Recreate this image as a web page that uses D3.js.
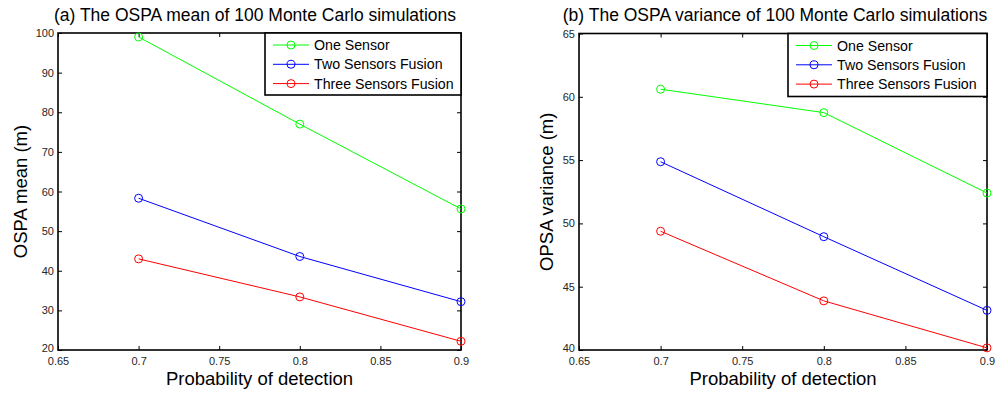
<!DOCTYPE html>
<html>
<head>
<meta charset="utf-8">
<style>
    body { margin: 0; background: #fff; }
    svg { font-family: 'Liberation Sans', Arial, sans-serif; }
    .tick text { font-size: 11px; fill: #262626; }
    .title { font-size: 17.5px; fill: #000; }
    .axis-label { font-size: 18.5px; fill: #000; }
    .legend-label { font-size: 14.2px; fill: #000; }
</style>
</head>
<body>
<svg width="1008" height="394"></svg>
<script src="https://d3js.org/d3.v7.min.js"></script>
<script>
// data
const pd = [0.7, 0.8, 0.9];
const seriesNames = ["One Sensor", "Two Sensors Fusion", "Three Sensors Fusion"];
const seriesColors = ["#00ff00", "#0000ff", "#ff0000"];

const meanOne = [99.0, 77.0, 55.6];
const meanTwo = [58.3, 43.6, 32.2];
const meanThree = [43.0, 33.4, 22.2];

const varOne = [60.6, 58.75, 52.4];
const varTwo = [54.87, 48.95, 43.13];
const varThree = [49.38, 43.88, 40.17];

const xTicks = [0.65, 0.7, 0.75, 0.8, 0.85, 0.9];
const meanTicks = [20, 30, 40, 50, 60, 70, 80, 90, 100];
const varTicks = [40, 45, 50, 55, 60, 65];

const svg = d3.select("svg");

function drawPanel(opt) {
    let x = d3.scaleLinear().domain([0.65, 0.9]).range([opt.left, opt.right]);
    let y = d3.scaleLinear().domain(opt.yDomain).range([opt.bottom, opt.top]);
    let g = svg.append("g");

    // inner ticks on all four sides (matlab box style)
    g.append("g").attr("transform", `translate(0,${opt.bottom})`)
        .call(d3.axisBottom(x).tickValues(xTicks).tickSizeInner(-4).tickSizeOuter(0).tickPadding(7).tickFormat(d => d3.format("")(d)))
        .call(a => a.select(".domain").remove());
    g.append("g").attr("transform", `translate(0,${opt.top})`)
        .call(d3.axisTop(x).tickValues(xTicks).tickSizeInner(-4).tickSizeOuter(0).tickFormat(""))
        .call(a => a.select(".domain").remove());
    g.append("g").attr("transform", `translate(${opt.left},0)`)
        .call(d3.axisLeft(y).tickValues(opt.yTicks).tickSizeInner(-4).tickSizeOuter(0).tickPadding(4))
        .call(a => a.select(".domain").remove());
    g.append("g").attr("transform", `translate(${opt.right},0)`)
        .call(d3.axisRight(y).tickValues(opt.yTicks).tickSizeInner(-4).tickSizeOuter(0).tickFormat(""))
        .call(a => a.select(".domain").remove());
    g.selectAll(".tick line").attr("stroke", "#000");

    // the lowest y label sits just above the x labels
    g.selectAll(".tick text").filter(d => d === opt.yDomain[0]).attr("dy", "0.1em");

    // box
    g.append("rect")
        .attr("x", opt.left).attr("y", opt.top)
        .attr("width", opt.right - opt.left).attr("height", opt.bottom - opt.top)
        .attr("fill", "none").attr("stroke", "#000").attr("stroke-width", 1.6);

    let line = d3.line().x((d, i) => x(pd[i])).y(d => y(d));
    opt.series.forEach((vals, k) => {
        g.append("path").datum(vals)
            .attr("d", line).attr("fill", "none")
            .attr("stroke", seriesColors[k]).attr("stroke-width", 1);
        g.selectAll(null).data(vals).join("circle")
            .attr("cx", (d, i) => x(pd[i])).attr("cy", d => y(d))
            .attr("r", 4).attr("fill", "none")
            .attr("stroke", seriesColors[k]).attr("stroke-width", 1);
    });

    // title and axis labels
    g.append("text").attr("class", "title")
        .attr("x", opt.titleX).attr("y", 21)
        .attr("text-anchor", "middle").text(opt.title);
    g.append("text").attr("class", "axis-label")
        .attr("x", (opt.left + opt.right) / 2).attr("y", 385)
        .attr("text-anchor", "middle").text("Probability of detection");
    g.append("text").attr("class", "axis-label")
        .attr("transform", `translate(${opt.yLabelX},${(opt.top + opt.bottom) / 2}) rotate(-90)`)
        .attr("text-anchor", "middle").text(opt.yLabel);

    // legend
    let lg = g.append("g").attr("transform", `translate(${opt.legendX},${opt.top})`);
    lg.append("rect").attr("width", opt.right - opt.legendX).attr("height", opt.legendH)
        .attr("fill", "#fff").attr("stroke", "#000").attr("stroke-width", 1.6);
    seriesNames.forEach((name, k) => {
        let ly = 12 + k * 19.3;
        lg.append("line").attr("x1", 8).attr("x2", 44).attr("y1", ly).attr("y2", ly)
            .attr("stroke", seriesColors[k]).attr("stroke-width", 1);
        lg.append("circle").attr("cx", 26).attr("cy", ly).attr("r", 4)
            .attr("fill", "none").attr("stroke", seriesColors[k]);
        lg.append("text").attr("class", "legend-label")
            .attr("x", 49).attr("y", ly + 5).text(name);
    });
}

drawPanel({
    left: 58, right: 461, top: 33, bottom: 350,
    yDomain: [20, 100], yTicks: meanTicks,
    series: [meanOne, meanTwo, meanThree],
    title: "(a) The OSPA mean of 100 Monte Carlo simulations", titleX: 255,
    yLabel: "OSPA mean (m)", yLabelX: 26.5,
    legendX: 265, legendH: 62
});

drawPanel({
    left: 579, right: 987, top: 33.5, bottom: 350,
    yDomain: [40, 65], yTicks: varTicks,
    series: [varOne, varTwo, varThree],
    title: "(b) The OSPA variance of 100 Monte Carlo simulations", titleX: 775,
    yLabel: "OPSA variance (m)", yLabelX: 553,
    legendX: 788, legendH: 63
});
</script>
</body>
</html>
